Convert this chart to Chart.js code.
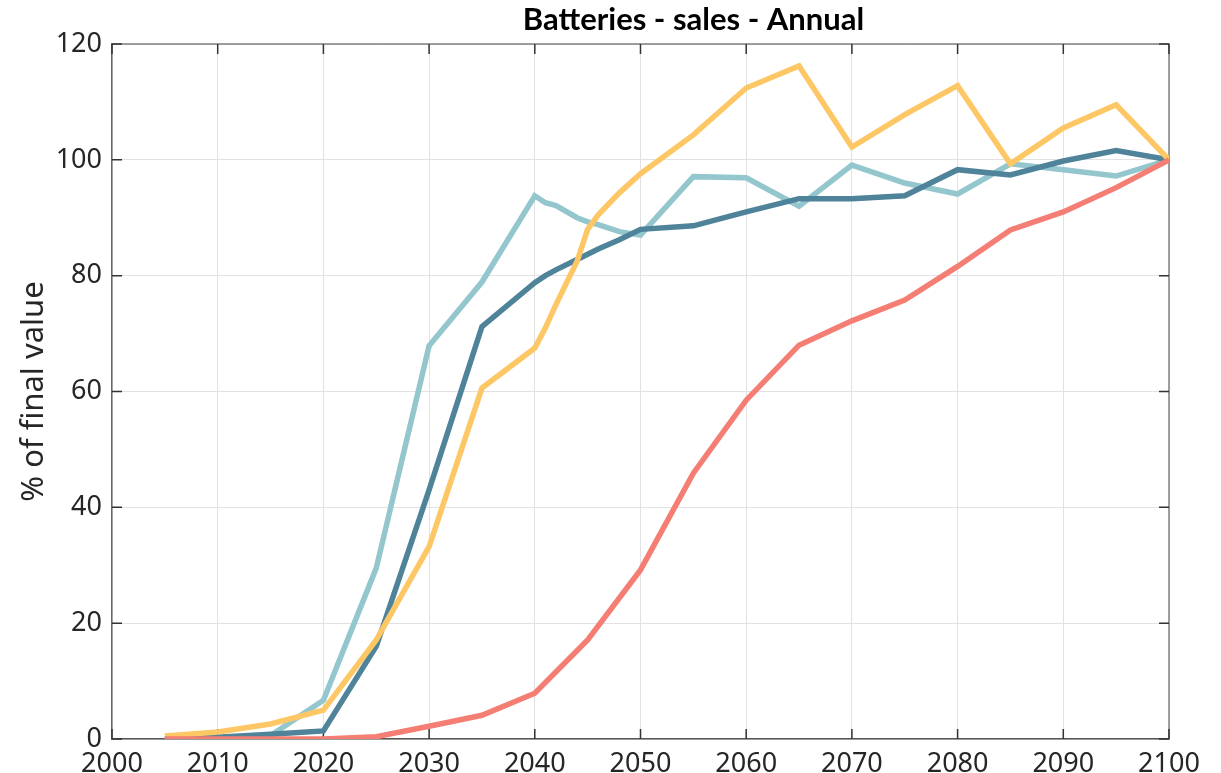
<!DOCTYPE html>
<html>
<head>
<meta charset="utf-8">
<title>Batteries - sales - Annual</title>
<script src="https://cdn.jsdelivr.net/npm/chart.js@4"></script>
<style>
  html, body { margin: 0; padding: 0; background: #fff; }
  #wrap { width: 1221px; height: 773px; }
</style>
</head>
<body>
<div id="wrap"><canvas id="myChart" width="1221" height="773"></canvas></div>
<script>
const chartTitle = "Batteries - sales - Annual";
const yTitle = "% of final value";
const xTicks = [2000, 2010, 2020, 2030, 2040, 2050, 2060, 2070, 2080, 2090, 2100];
const yTicks = [0, 20, 40, 60, 80, 100, 120];

// years used by the three faster series (denser around the 2040s)
const yearsDense = [2005, 2010, 2015, 2020, 2025, 2030, 2035, 2040, 2041, 2042, 2044, 2045,
  2046, 2048, 2050, 2055, 2060, 2065, 2070, 2075, 2080, 2085, 2090, 2095, 2100];
// five-year steps for the slow series
const yearsFive = [2005, 2010, 2015, 2020, 2025, 2030, 2035, 2040, 2045, 2050,
  2055, 2060, 2065, 2070, 2075, 2080, 2085, 2090, 2095, 2100];

const darkBlue = [0, 0.3, 0.8, 1.4, 16, 43, 71.2, 78.8, 80.0, 81.0, 82.8, 83.7,
  84.6, 86.2, 88.0, 88.6, 91.0, 93.3, 93.3, 93.8, 98.3, 97.4, 99.8, 101.6, 100];
const lightBlue = [0, 0.2, 0.6, 6.7, 29.5, 67.9, 78.9, 93.8, 92.6, 92.1, 90.0, 89.3,
  88.8, 87.6, 87.0, 97.1, 96.9, 92.0, 99.1, 96.0, 94.1, 99.3, 98.3, 97.2, 100];
const yellow = [0.5, 1.2, 2.6, 5.0, 17.1, 33.2, 60.6, 67.5, 71.0, 75.0, 82.5, 88.0,
  90.5, 94.3, 97.6, 104.3, 112.4, 116.2, 102.2, 107.8, 112.8, 99.3, 105.5, 109.5, 100];
const red = [0, 0, 0, 0, 0.4, 2.2, 4.1, 7.9, 17.1, 29.2, 45.9, 58.5, 68.0, 72.2,
  75.8, 81.6, 87.9, 91.0, 95.2, 100];

const font = "'Noto Sans', 'DejaVu Sans', sans-serif";
const tickColor = "#262626";

function points(years, values) {
  return years.map((yr, i) => ({ x: yr, y: values[i] }));
}

function line(data, color) {
  return {
    data: data,
    borderColor: color,
    backgroundColor: color,
    borderWidth: 5.5,
    pointRadius: 0,
    tension: 0,
    fill: false,
  };
}

// box round the plot, with ticks pointing inwards on all four sides
const frame = {
  id: "frame",
  beforeDatasetsDraw(chart) {
    const { ctx, chartArea: a, scales } = chart;
    ctx.save();
    ctx.strokeStyle = "#808080";
    ctx.lineWidth = 1.5;
    ctx.beginPath();
    ctx.moveTo(a.left, a.top);
    ctx.lineTo(a.right, a.top);
    ctx.lineTo(a.right, a.bottom);
    ctx.stroke();

    ctx.strokeStyle = "#333";
    ctx.lineWidth = 1.5;
    const len = 10;
    ctx.beginPath();
    xTicks.forEach((v) => {
      const px = scales.x.getPixelForValue(v);
      ctx.moveTo(px, a.bottom);
      ctx.lineTo(px, a.bottom - len);
      ctx.moveTo(px, a.top);
      ctx.lineTo(px, a.top + len);
    });
    yTicks.forEach((v) => {
      const py = scales.y.getPixelForValue(v);
      ctx.moveTo(a.left, py);
      ctx.lineTo(a.left + len, py);
      ctx.moveTo(a.right, py);
      ctx.lineTo(a.right - len, py);
    });
    ctx.stroke();
    ctx.restore();
  },
  afterDraw(chart) {
    const { ctx, chartArea: a } = chart;
    ctx.save();
    ctx.font = "bold 31px 'Lato', 'Open Sans', sans-serif";
    ctx.fillStyle = "#000";
    ctx.textAlign = "center";
    ctx.textBaseline = "middle";
    ctx.fillText(chartTitle, (a.left + a.right) / 2 + 53, 20);
    ctx.restore();
  },
};

const ctx = document.getElementById("myChart");

new Chart(ctx, {
  type: "line",
  data: {
    datasets: [
      line(points(yearsFive, red), "#F47E74"),
      line(points(yearsDense, yellow), "#FDC766"),
      line(points(yearsDense, darkBlue), "#4E8399"),
      line(points(yearsDense, lightBlue), "#93C6CD"),
    ],
  },
  options: {
    responsive: false,
    animation: false,
    layout: {
      padding: { top: 44, right: 52, left: 0, bottom: 0 },
    },
    plugins: {
      legend: { display: false },
      tooltip: { enabled: false },
      title: { display: false },
    },
    scales: {
      x: {
        type: "linear",
        min: 2000,
        max: 2100,
        afterFit: (scale) => { scale.height = 34; },
        afterBuildTicks: (scale) => { scale.ticks = xTicks.map((v) => ({ value: v })); },
        ticks: {
          autoSkip: false,
          maxRotation: 0,
          padding: 9,
          color: tickColor,
          font: { family: font, size: 27 },
          callback: (v) => String(v),
        },
        grid: { color: "#e2e2e2", lineWidth: 1, drawTicks: false },
        border: { color: "#555", width: 1.5 },
      },
      y: {
        min: 0,
        max: 120,
        afterFit: (scale) => { scale.width = 112; },
        afterBuildTicks: (scale) => { scale.ticks = yTicks.map((v) => ({ value: v })); },
        ticks: {
          padding: 10,
          color: tickColor,
          font: { family: font, size: 27 },
        },
        grid: { color: "#e2e2e2", lineWidth: 1, drawTicks: false },
        border: { color: "#666", width: 1.5 },
        title: {
          display: true,
          text: yTitle,
          color: tickColor,
          font: { family: font, size: 31 },
          padding: { top: 16, bottom: 0 },
        },
      },
    },
  },
  plugins: [frame],
});
</script>
</body>
</html>
